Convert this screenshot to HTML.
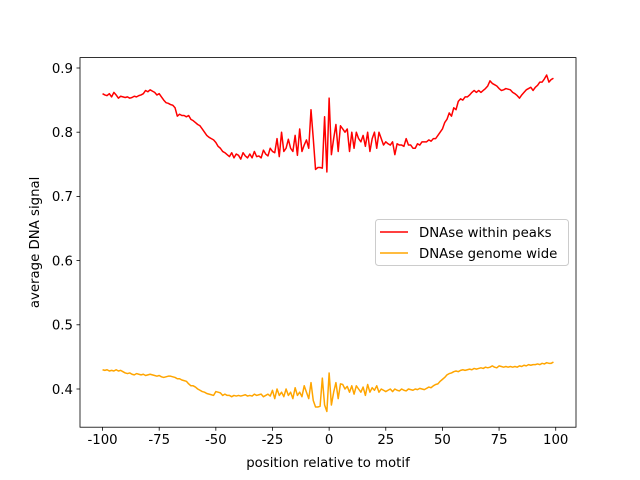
<!DOCTYPE html>
<html><head><meta charset="utf-8"><style>
body{margin:0;background:#fff}
svg{display:block;font-family:"DejaVu Sans","Liberation Sans",sans-serif}
</style></head><body>
<svg id="chart" width="640" height="480" viewBox="0 0 640 480" xmlns="http://www.w3.org/2000/svg"></svg>
<script>
const xTicks=[-100,-75,-50,-25,0,25,50,75,100];
const yTicks=[0.4,0.5,0.6,0.7,0.8,0.9];
const redValues=[0.860,0.858,0.857,0.860,0.855,0.862,0.858,0.853,0.856,0.855,
0.854,0.855,0.853,0.854,0.856,0.855,0.857,0.858,0.860,0.865,
0.863,0.866,0.864,0.862,0.858,0.860,0.855,0.850,0.846,0.845,
0.843,0.842,0.838,0.825,0.828,0.826,0.826,0.824,0.826,0.820,
0.818,0.815,0.812,0.810,0.805,0.800,0.795,0.792,0.790,0.788,
0.784,0.778,0.775,0.770,0.768,0.765,0.762,0.768,0.760,0.766,
0.764,0.758,0.768,0.763,0.760,0.766,0.760,0.770,0.762,0.763,
0.760,0.772,0.766,0.763,0.775,0.770,0.768,0.790,0.762,0.800,
0.770,0.775,0.789,0.775,0.770,0.795,0.764,0.805,0.770,0.780,
0.788,0.775,0.835,0.790,0.742,0.745,0.745,0.744,0.824,0.738,
0.853,
0.765,0.790,0.812,0.770,0.810,0.805,0.800,0.805,0.770,
0.800,0.775,0.800,0.790,0.785,0.795,0.778,0.800,0.770,0.790,
0.800,0.775,0.800,0.790,0.780,0.785,0.782,0.780,0.785,0.765,
0.782,0.780,0.780,0.778,0.790,0.780,0.780,0.775,0.775,0.782,
0.780,0.785,0.785,0.785,0.788,0.786,0.790,0.790,0.795,0.800,
0.805,0.815,0.820,0.830,0.825,0.838,0.835,0.848,0.852,0.850,
0.855,0.855,0.858,0.862,0.865,0.862,0.865,0.862,0.865,0.868,
0.872,0.880,0.876,0.874,0.872,0.868,0.865,0.866,0.868,0.867,
0.866,0.862,0.860,0.857,0.853,0.858,0.862,0.866,0.868,0.870,
0.865,0.870,0.873,0.878,0.878,0.883,0.889,0.878,0.882,0.884];
const orangeValues=[0.430,0.429,0.430,0.428,0.429,0.428,0.430,0.428,0.429,0.427,
0.425,0.424,0.425,0.423,0.422,0.424,0.423,0.422,0.423,0.421,
0.422,0.423,0.422,0.421,0.420,0.421,0.419,0.418,0.419,0.420,
0.420,0.419,0.418,0.416,0.416,0.414,0.413,0.412,0.408,0.405,
0.405,0.403,0.400,0.398,0.396,0.395,0.393,0.392,0.391,0.390,
0.396,0.395,0.394,0.390,0.392,0.390,0.390,0.388,0.390,0.389,
0.390,0.389,0.390,0.391,0.389,0.390,0.389,0.392,0.390,0.391,
0.392,0.388,0.390,0.392,0.389,0.398,0.385,0.400,0.390,0.395,
0.388,0.400,0.390,0.395,0.385,0.402,0.390,0.395,0.388,0.405,
0.395,0.385,0.410,0.382,0.372,0.372,0.373,0.417,0.375,0.365,
0.425,
0.375,0.395,0.410,0.385,0.408,0.407,0.400,0.404,0.395,0.405,
0.392,0.405,0.400,0.395,0.403,0.390,0.407,0.395,0.402,0.398,
0.405,0.395,0.400,0.398,0.396,0.398,0.400,0.396,0.400,0.398,
0.397,0.400,0.398,0.397,0.400,0.399,0.398,0.400,0.399,0.401,
0.400,0.399,0.401,0.403,0.402,0.405,0.407,0.408,0.412,0.415,
0.418,0.422,0.424,0.425,0.427,0.428,0.427,0.429,0.430,0.429,
0.430,0.431,0.430,0.432,0.431,0.432,0.433,0.432,0.434,0.433,
0.434,0.436,0.434,0.433,0.436,0.435,0.434,0.435,0.434,0.435,
0.434,0.435,0.434,0.436,0.435,0.437,0.436,0.438,0.437,0.438,
0.438,0.439,0.438,0.440,0.439,0.441,0.440,0.440,0.442];
const xStart=-100;

const L=80,R=576,T=57.6,B=427.2;
const xMin=-109.95,xMax=108.95,yMin=0.3405,yMax=0.9162;
const sx=v=>L+(v-xMin)/(xMax-xMin)*(R-L);
const sy=v=>B-(v-yMin)/(yMax-yMin)*(B-T);
const NS='http://www.w3.org/2000/svg';
const svg=document.getElementById('chart');
function mk(tag,attrs,parent){const e=document.createElementNS(NS,tag);for(const k in attrs)e.setAttribute(k,attrs[k]);(parent||svg).appendChild(e);return e;}

xTicks.forEach(t=>{
  const g=mk('g',{});
  
  
  mk('line',{x1:sx(t),x2:sx(t),y1:B,y2:B+3.5,stroke:'#000','stroke-width':0.8},g);
  const tx=mk('text',{x:sx(t),y:B+17,'text-anchor':'middle','font-size':'13.3px',fill:'#000'},g);
  tx.textContent=t;
});
yTicks.forEach(t=>{
  const g=mk('g',{});
  
  
  mk('line',{x1:L-3.5,x2:L,y1:sy(t),y2:sy(t),stroke:'#000','stroke-width':0.8},g);
  const tx=mk('text',{x:L-7,y:sy(t)+4.8,'text-anchor':'end','font-size':'13.3px',fill:'#000'},g);
  tx.textContent=t.toFixed(1);
});

function series(vals,color,name){
  const d=vals.map((v,i)=>(i?'L':'M')+sx(xStart+i).toFixed(2)+' '+sy(v).toFixed(2)).join(' ');
  const p=mk('path',{d:d,fill:'none',stroke:color,'stroke-width':1.5,'stroke-linejoin':'round'});
  
  
}
series(redValues,'#ff0000','series-dnase-within-peaks');
series(orangeValues,'#ffa500','series-dnase-genome-wide');

const frame=mk('rect',{x:L,y:T,width:R-L,height:B-T,fill:'none',stroke:'#000','stroke-width':0.8});



const xl=mk('text',{x:(L+R)/2,y:467,'text-anchor':'middle','font-size':'13.3px',fill:'#000'});
xl.textContent='position relative to motif';


const yl=mk('text',{x:0,y:0,'text-anchor':'middle','font-size':'13.3px',fill:'#000',transform:'translate(39,'+((T+B)/2)+') rotate(-90)'});
yl.textContent='average DNA signal';



const lg=mk('g',{});


mk('rect',{x:375.5,y:219.5,width:193,height:46,rx:3,fill:'#fff','fill-opacity':0.8,stroke:'#ccc','stroke-width':1},lg);
const entries=[['#ff0000','DNAse within peaks',232],['#ffa500','DNAse genome wide',253]];
entries.forEach((e,i)=>{
  const g=mk('g',{},lg);
  
  
  mk('line',{x1:380,x2:408,y1:e[2],y2:e[2],stroke:e[0],'stroke-width':1.5},g);
  const t=mk('text',{x:419,y:e[2]+4.8,'font-size':'13.3px',fill:'#000'},g);
  t.textContent=e[1];
});
</script>
</body></html>
